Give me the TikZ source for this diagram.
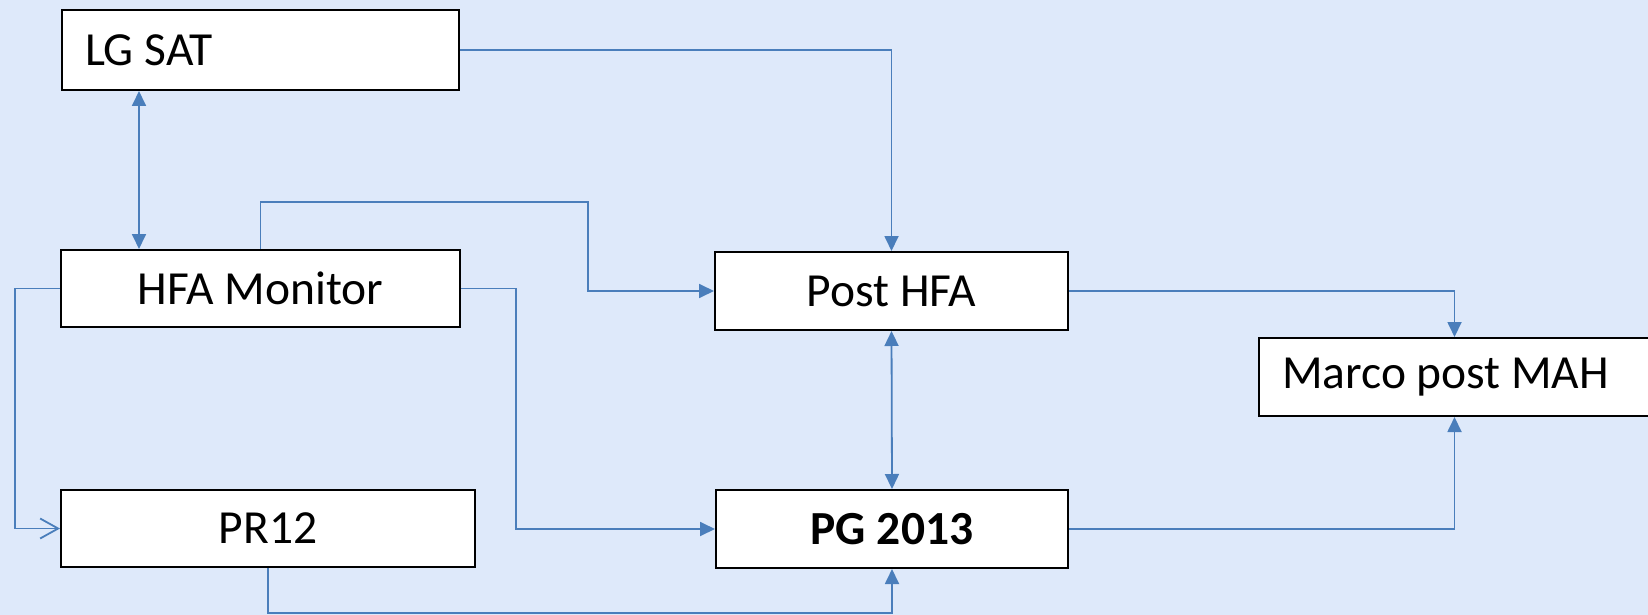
\documentclass[tikz,border=0pt]{standalone}
\usepackage{fontspec}
\setmainfont{Carlito}
\usetikzlibrary{arrows.meta,calc}
\definecolor{bgblue}{RGB}{222,233,250}
\definecolor{lineblue}{RGB}{74,126,187}
\begin{document}
\begin{tikzpicture}[x=1pt,y=-1pt,
  box/.style={draw=black, line width=2pt, fill=white, inner sep=0pt,
    font=\fontsize{47.5}{57}\selectfont},
  leftbox/.style={box, align=flush left, inner xsep=23pt},
  conn/.style={draw=lineblue, line width=1.8pt},
  tip/.style={-{Triangle[length=15pt,width=14pt]}},
  bitip/.style={{Triangle[length=15pt,width=14pt]}-{Triangle[length=15pt,width=14pt]}},
  opentip/.style={-{Straight Barb[length=18pt,width=20pt,line width=1.8pt]}}]
\fill[bgblue] (0,0) rectangle (1648,615);
\useasboundingbox (0,0) rectangle (1648,615);

\node[leftbox, minimum width=397pt, minimum height=80pt, text width=351pt] (lg) at (260.5,50) {LG SAT};
\node[box, minimum width=399pt, minimum height=77pt] (hfa) at (260.5,288.5) {HFA Monitor};
\node[box, minimum width=414pt, minimum height=77pt] (pr) at (268,528.5) {PR12};
\node[box, minimum width=353pt, minimum height=78pt] (post) at (891.5,291) {Post HFA};
\node[box, minimum width=352pt, minimum height=78pt] (pg) at (892,529) {\bfseries PG 2013};
\node[leftbox, minimum width=391pt, minimum height=78pt, text width=345pt] (marco) at (1454.5,377) {Marco post MAH};

\coordinate (c1) at (588,202);
\coordinate (c2) at (516,289);
\coordinate (c3) at (15,289);
\coordinate (c4) at (268,613);
\coordinate (vx) at (139,0);

\draw[conn,bitip] (lg.south -| vx) -- (hfa.north -| vx);
\draw[conn,tip] (lg.east) -| (post.north);
\draw[conn,tip] (hfa.north) |- (c1) |- (post.west);
\draw[conn,tip] (hfa.east) -| (c2) |- (pg.west);
\draw[conn,opentip] (hfa.west) -| (c3) |- (pr.west);
\draw[conn,bitip] (post.south) -- (pg.north);
\draw[conn,tip] (post.east) -| (marco.north);
\draw[conn,tip] (pg.east) -| (marco.south);
\draw[conn,tip] (pr.south) -- (c4) -| (pg.south);
\end{tikzpicture}
\end{document}
